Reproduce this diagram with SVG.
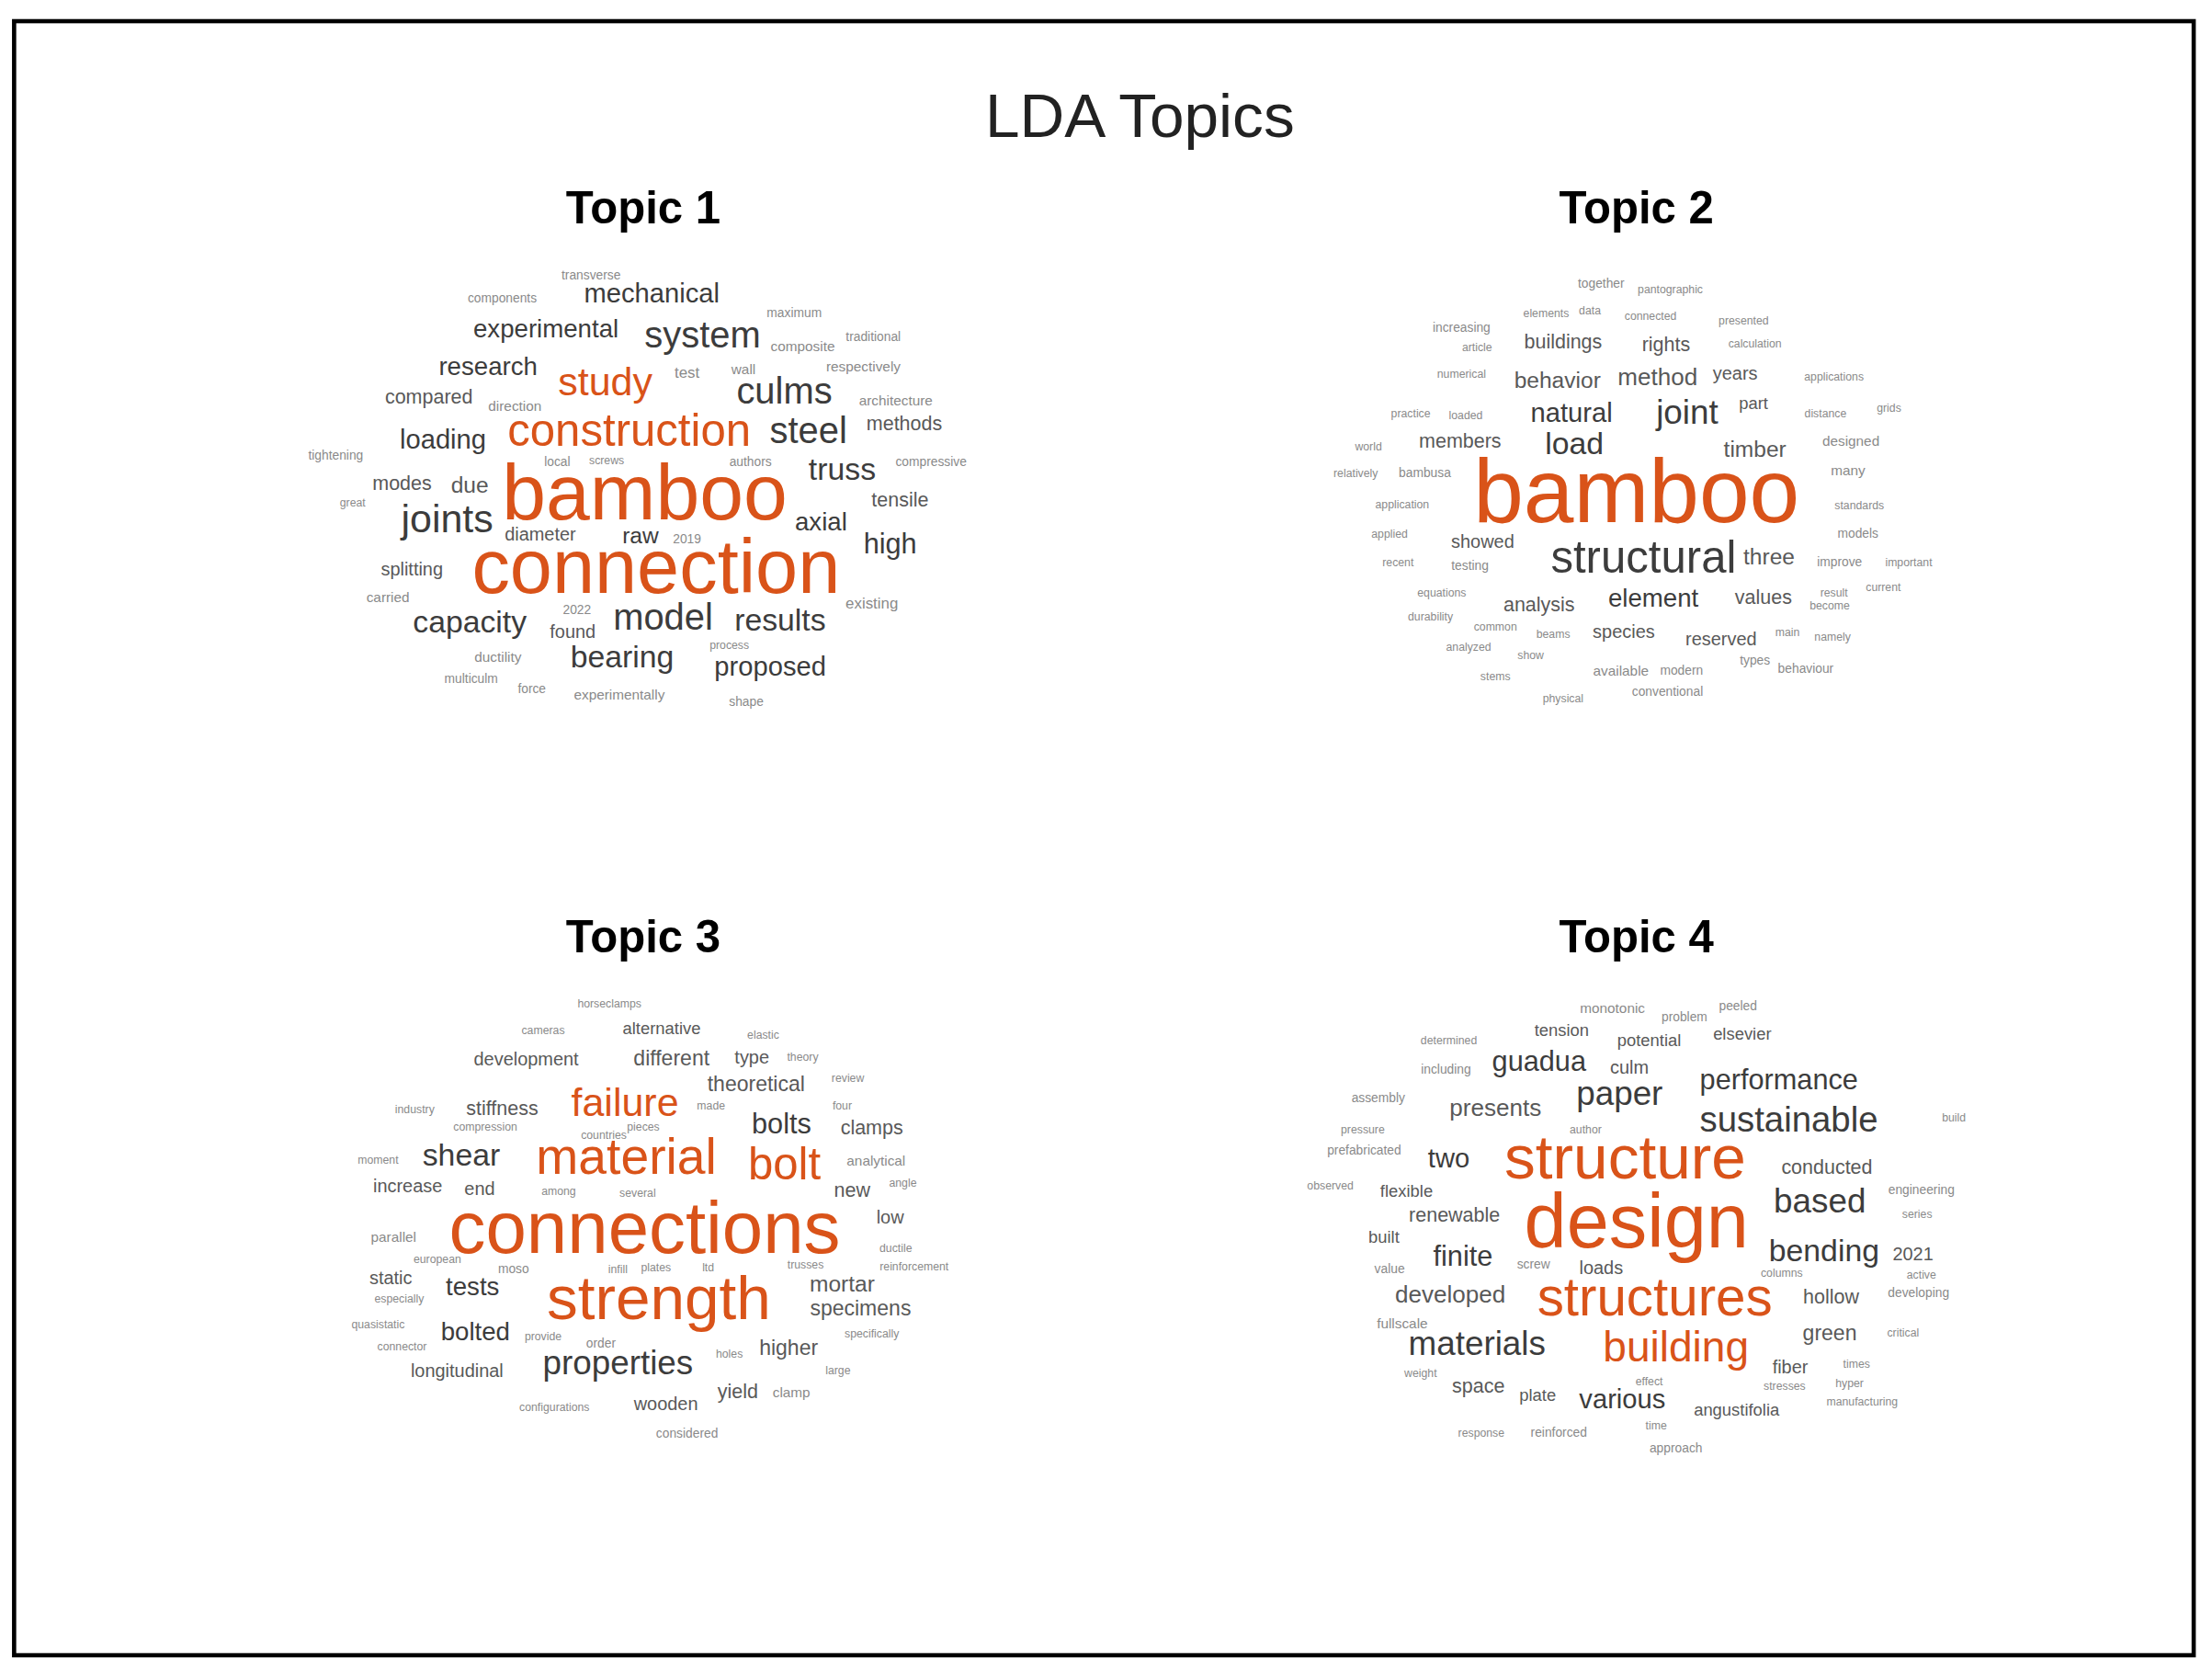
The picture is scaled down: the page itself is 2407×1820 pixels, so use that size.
<svg xmlns="http://www.w3.org/2000/svg" width="2407" height="1820" viewBox="0 0 2407 1820">
<style>
text{font-family:"Liberation Sans",Arial,sans-serif;text-anchor:middle}
.o{fill:#D95319}.d{fill:#3c3c3c}.m{fill:#595959}.s{fill:#8a8a8a}
.tt{font-weight:bold;fill:#000;font-size:32px}
</style>
<rect width="2407" height="1820" fill="#fff"/>
<g transform="scale(1.5351)">
<rect x="10" y="15" width="1545" height="1158" fill="none" stroke="#000" stroke-width="3"/>
<text x="808" y="97" font-size="44" fill="#222">LDA Topics</text>
<g id="topic1">
<text class="tt" x="456" y="158">Topic 1</text>
<text class="o" x="457" y="368" font-size="56">bamboo</text>
<text class="o" x="465" y="420" font-size="54">connection</text>
<text class="o" x="446" y="316" font-size="32">construction</text>
<text class="o" x="429" y="280" font-size="28">study</text>
<text class="d" x="498" y="246" font-size="26">system</text>
<text class="d" x="462" y="214" font-size="19">mechanical</text>
<text class="d" x="387" y="239" font-size="18">experimental</text>
<text class="d" x="346" y="266" font-size="18">research</text>
<text class="d" x="556" y="286" font-size="26">culms</text>
<text class="d" x="573" y="314" font-size="26">steel</text>
<text class="d" x="597" y="340" font-size="22">truss</text>
<text class="d" x="314" y="318" font-size="19">loading</text>
<text class="d" x="317" y="377" font-size="28">joints</text>
<text class="m" x="285" y="347" font-size="14">modes</text>
<text class="m" x="333" y="349" font-size="16">due</text>
<text class="m" x="304" y="286" font-size="14">compared</text>
<text class="s" x="365" y="291" font-size="10">direction</text>
<text class="s" x="487" y="268" font-size="11">test</text>
<text class="s" x="527" y="265" font-size="10">wall</text>
<text class="s" x="612" y="263" font-size="10">respectively</text>
<text class="s" x="635" y="287" font-size="10">architecture</text>
<text class="m" x="641" y="305" font-size="14">methods</text>
<text class="s" x="569" y="249" font-size="10">composite</text>
<text class="s" x="563" y="225" font-size="9">maximum</text>
<text class="s" x="619" y="242" font-size="9">traditional</text>
<text class="s" x="356" y="214" font-size="9">components</text>
<text class="s" x="419" y="198" font-size="9">transverse</text>
<text class="m" x="638" y="359" font-size="14">tensile</text>
<text class="d" x="582" y="376" font-size="18">axial</text>
<text class="d" x="631" y="392" font-size="20">high</text>
<text class="m" x="383" y="383" font-size="13">diameter</text>
<text class="d" x="454" y="385" font-size="16">raw</text>
<text class="s" x="487" y="385" font-size="9">2019</text>
<text class="d" x="333" y="448" font-size="22">capacity</text>
<text class="d" x="470" y="446" font-size="26">model</text>
<text class="d" x="553" y="447" font-size="22">results</text>
<text class="m" x="406" y="452" font-size="13">found</text>
<text class="s" x="409" y="435" font-size="9">2022</text>
<text class="d" x="441" y="473" font-size="22">bearing</text>
<text class="d" x="546" y="479" font-size="19">proposed</text>
<text class="m" x="292" y="408" font-size="13">splitting</text>
<text class="s" x="275" y="427" font-size="10">carried</text>
<text class="s" x="618" y="431" font-size="11">existing</text>
<text class="s" x="353" y="469" font-size="10">ductility</text>
<text class="s" x="334" y="484" font-size="9">multiculm</text>
<text class="s" x="377" y="491" font-size="9">force</text>
<text class="s" x="439" y="496" font-size="10">experimentally</text>
<text class="s" x="529" y="500" font-size="9">shape</text>
<text class="s" x="517" y="460" font-size="8">process</text>
<text class="s" x="532" y="330" font-size="9">authors</text>
<text class="s" x="395" y="330" font-size="9">local</text>
<text class="s" x="430" y="329" font-size="8">screws</text>
<text class="s" x="238" y="326" font-size="9">tightening</text>
<text class="s" x="250" y="359" font-size="8">great</text>
<text class="s" x="660" y="330" font-size="9">compressive</text>
</g>
<g id="topic2">
<text class="tt" x="1160" y="158">Topic 2</text>
<text class="o" x="1160" y="370" font-size="64">bamboo</text>
<text class="d" x="1165" y="406" font-size="32">structural</text>
<text class="d" x="1172" y="430" font-size="18">element</text>
<text class="m" x="1091" y="433" font-size="14">analysis</text>
<text class="m" x="1250" y="428" font-size="14">values</text>
<text class="m" x="1254" y="400" font-size="16">three</text>
<text class="d" x="1196" y="300" font-size="24">joint</text>
<text class="d" x="1114" y="299" font-size="19">natural</text>
<text class="d" x="1116" y="322" font-size="22">load</text>
<text class="m" x="1244" y="324" font-size="16">timber</text>
<text class="m" x="1104" y="275" font-size="16">behavior</text>
<text class="m" x="1175" y="273" font-size="17">method</text>
<text class="m" x="1230" y="269" font-size="13">years</text>
<text class="m" x="1243" y="290" font-size="12">part</text>
<text class="m" x="1035" y="317" font-size="14">members</text>
<text class="m" x="1108" y="247" font-size="14">buildings</text>
<text class="m" x="1181" y="249" font-size="14">rights</text>
<text class="m" x="1051" y="388" font-size="13">showed</text>
<text class="s" x="1042" y="404" font-size="9">testing</text>
<text class="m" x="1151" y="452" font-size="13">species</text>
<text class="m" x="1220" y="457" font-size="13">reserved</text>
<text class="s" x="1149" y="479" font-size="10">available</text>
<text class="s" x="1192" y="478" font-size="9">modern</text>
<text class="s" x="1182" y="493" font-size="9">conventional</text>
<text class="s" x="1244" y="471" font-size="9">types</text>
<text class="s" x="1280" y="477" font-size="9">behaviour</text>
<text class="s" x="1312" y="316" font-size="10">designed</text>
<text class="s" x="1310" y="337" font-size="10">many</text>
<text class="s" x="1318" y="361" font-size="8">standards</text>
<text class="s" x="1317" y="381" font-size="9">models</text>
<text class="s" x="1304" y="401" font-size="9">improve</text>
<text class="s" x="1353" y="401" font-size="8">important</text>
<text class="s" x="1294" y="296" font-size="8">distance</text>
<text class="s" x="1300" y="270" font-size="8">applications</text>
<text class="s" x="1244" y="246" font-size="8">calculation</text>
<text class="s" x="1236" y="230" font-size="8">presented</text>
<text class="s" x="1170" y="227" font-size="8">connected</text>
<text class="s" x="1096" y="225" font-size="8">elements</text>
<text class="s" x="1127" y="223" font-size="8">data</text>
<text class="s" x="1135" y="204" font-size="9">together</text>
<text class="s" x="1184" y="208" font-size="8">pantographic</text>
<text class="s" x="1036" y="235" font-size="9">increasing</text>
<text class="s" x="1047" y="249" font-size="8">article</text>
<text class="s" x="1036" y="268" font-size="8">numerical</text>
<text class="s" x="1000" y="296" font-size="8">practice</text>
<text class="s" x="1039" y="297" font-size="8">loaded</text>
<text class="s" x="970" y="319" font-size="8">world</text>
<text class="s" x="961" y="338" font-size="8">relatively</text>
<text class="s" x="1010" y="338" font-size="9">bambusa</text>
<text class="s" x="994" y="360" font-size="8">application</text>
<text class="s" x="985" y="381" font-size="8">applied</text>
<text class="s" x="991" y="401" font-size="8">recent</text>
<text class="s" x="1022" y="423" font-size="8">equations</text>
<text class="s" x="1014" y="440" font-size="8">durability</text>
<text class="s" x="1060" y="447" font-size="8">common</text>
<text class="s" x="1041" y="461" font-size="8">analyzed</text>
<text class="s" x="1101" y="452" font-size="8">beams</text>
<text class="s" x="1085" y="467" font-size="8">show</text>
<text class="s" x="1060" y="482" font-size="8">stems</text>
<text class="s" x="1108" y="498" font-size="8">physical</text>
<text class="s" x="1300" y="423" font-size="8">result</text>
<text class="s" x="1297" y="432" font-size="8">become</text>
<text class="s" x="1335" y="419" font-size="8">current</text>
<text class="s" x="1267" y="451" font-size="8">main</text>
<text class="s" x="1299" y="454" font-size="8">namely</text>
<text class="s" x="1339" y="292" font-size="8">grids</text>
</g>
<g id="topic3">
<text class="tt" x="456" y="675">Topic 3</text>
<text class="o" x="457" y="888" font-size="52">connections</text>
<text class="o" x="467" y="935" font-size="44">strength</text>
<text class="o" x="444" y="832" font-size="36">material</text>
<text class="o" x="556" y="836" font-size="32">bolt</text>
<text class="o" x="443" y="791" font-size="28">failure</text>
<text class="d" x="327" y="826" font-size="22">shear</text>
<text class="d" x="554" y="803" font-size="20">bolts</text>
<text class="m" x="618" y="804" font-size="14">clamps</text>
<text class="m" x="536" y="773" font-size="15">theoretical</text>
<text class="m" x="476" y="755" font-size="15">different</text>
<text class="m" x="533" y="754" font-size="13">type</text>
<text class="m" x="469" y="733" font-size="12">alternative</text>
<text class="m" x="373" y="755" font-size="13">development</text>
<text class="m" x="356" y="790" font-size="14">stiffness</text>
<text class="m" x="289" y="845" font-size="13">increase</text>
<text class="m" x="340" y="847" font-size="13">end</text>
<text class="m" x="604" y="848" font-size="14">new</text>
<text class="s" x="621" y="826" font-size="10">analytical</text>
<text class="m" x="631" y="867" font-size="13">low</text>
<text class="d" x="335" y="918" font-size="18">tests</text>
<text class="m" x="277" y="910" font-size="13">static</text>
<text class="s" x="279" y="880" font-size="10">parallel</text>
<text class="m" x="597" y="915" font-size="16">mortar</text>
<text class="m" x="610" y="932" font-size="15">specimens</text>
<text class="d" x="337" y="950" font-size="18">bolted</text>
<text class="d" x="438" y="974" font-size="24">properties</text>
<text class="m" x="324" y="976" font-size="13">longitudinal</text>
<text class="m" x="559" y="960" font-size="15">higher</text>
<text class="m" x="523" y="991" font-size="14">yield</text>
<text class="s" x="561" y="990" font-size="10">clamp</text>
<text class="m" x="472" y="999" font-size="13">wooden</text>
<text class="s" x="393" y="1000" font-size="8">configurations</text>
<text class="s" x="487" y="1019" font-size="9">considered</text>
<text class="s" x="426" y="955" font-size="9">order</text>
<text class="s" x="385" y="950" font-size="8">provide</text>
<text class="s" x="517" y="962" font-size="8">holes</text>
<text class="s" x="364" y="902" font-size="9">moso</text>
<text class="s" x="438" y="902" font-size="8">infill</text>
<text class="s" x="465" y="901" font-size="8">plates</text>
<text class="s" x="502" y="901" font-size="8">ltd</text>
<text class="s" x="571" y="899" font-size="8">trusses</text>
<text class="s" x="635" y="887" font-size="8">ductile</text>
<text class="s" x="648" y="900" font-size="8">reinforcement</text>
<text class="s" x="618" y="948" font-size="8">specifically</text>
<text class="s" x="594" y="974" font-size="8">large</text>
<text class="s" x="310" y="895" font-size="8">european</text>
<text class="s" x="283" y="923" font-size="8">especially</text>
<text class="s" x="268" y="941" font-size="8">quasistatic</text>
<text class="s" x="285" y="957" font-size="8">connector</text>
<text class="s" x="428" y="807" font-size="8">countries</text>
<text class="s" x="456" y="801" font-size="8">pieces</text>
<text class="s" x="344" y="801" font-size="8">compression</text>
<text class="s" x="294" y="789" font-size="8">industry</text>
<text class="s" x="268" y="825" font-size="8">moment</text>
<text class="s" x="396" y="847" font-size="8">among</text>
<text class="s" x="452" y="848" font-size="8">several</text>
<text class="s" x="504" y="786" font-size="8">made</text>
<text class="s" x="601" y="767" font-size="8">review</text>
<text class="s" x="597" y="786" font-size="8">four</text>
<text class="s" x="640" y="841" font-size="8">angle</text>
<text class="s" x="569" y="752" font-size="8">theory</text>
<text class="s" x="541" y="736" font-size="8">elastic</text>
<text class="s" x="385" y="733" font-size="8">cameras</text>
<text class="s" x="432" y="714" font-size="8">horseclamps</text>
</g>
<g id="topic4">
<text class="tt" x="1160" y="675">Topic 4</text>
<text class="o" x="1160" y="884" font-size="54">design</text>
<text class="o" x="1152" y="835" font-size="44">structure</text>
<text class="o" x="1173" y="932" font-size="38">structures</text>
<text class="o" x="1188" y="965" font-size="30">building</text>
<text class="d" x="1268" y="802" font-size="25">sustainable</text>
<text class="d" x="1261" y="772" font-size="20">performance</text>
<text class="d" x="1148" y="783" font-size="24">paper</text>
<text class="d" x="1091" y="759" font-size="20">guadua</text>
<text class="m" x="1060" y="791" font-size="17">presents</text>
<text class="d" x="1027" y="827" font-size="19">two</text>
<text class="d" x="1290" y="859" font-size="24">based</text>
<text class="m" x="1295" y="832" font-size="14">conducted</text>
<text class="d" x="1293" y="894" font-size="22">bending</text>
<text class="m" x="1356" y="893" font-size="13">2021</text>
<text class="d" x="1037" y="897" font-size="20">finite</text>
<text class="m" x="1028" y="923" font-size="17">developed</text>
<text class="d" x="1047" y="960" font-size="24">materials</text>
<text class="m" x="1298" y="924" font-size="14">hollow</text>
<text class="m" x="1297" y="950" font-size="15">green</text>
<text class="m" x="1269" y="973" font-size="13">fiber</text>
<text class="d" x="1150" y="998" font-size="19">various</text>
<text class="m" x="1048" y="987" font-size="14">space</text>
<text class="m" x="1090" y="993" font-size="12">plate</text>
<text class="m" x="1231" y="1003" font-size="12">angustifolia</text>
<text class="m" x="1031" y="866" font-size="14">renewable</text>
<text class="m" x="997" y="848" font-size="12">flexible</text>
<text class="m" x="981" y="881" font-size="12">built</text>
<text class="s" x="985" y="902" font-size="9">value</text>
<text class="m" x="1135" y="903" font-size="13">loads</text>
<text class="s" x="1087" y="899" font-size="9">screw</text>
<text class="m" x="1155" y="761" font-size="13">culm</text>
<text class="m" x="1169" y="741" font-size="12">potential</text>
<text class="m" x="1235" y="737" font-size="12">elsevier</text>
<text class="m" x="1107" y="734" font-size="12">tension</text>
<text class="s" x="1143" y="718" font-size="10">monotonic</text>
<text class="s" x="1194" y="724" font-size="9">problem</text>
<text class="s" x="1232" y="716" font-size="9">peeled</text>
<text class="s" x="1027" y="740" font-size="8">determined</text>
<text class="s" x="1025" y="761" font-size="9">including</text>
<text class="s" x="977" y="781" font-size="9">assembly</text>
<text class="s" x="966" y="803" font-size="8">pressure</text>
<text class="s" x="967" y="818" font-size="9">prefabricated</text>
<text class="s" x="943" y="843" font-size="8">observed</text>
<text class="s" x="1124" y="803" font-size="8">author</text>
<text class="s" x="1362" y="846" font-size="9">engineering</text>
<text class="s" x="1359" y="863" font-size="8">series</text>
<text class="s" x="1360" y="919" font-size="9">developing</text>
<text class="s" x="1349" y="947" font-size="8">critical</text>
<text class="s" x="1316" y="969" font-size="8">times</text>
<text class="s" x="1311" y="983" font-size="8">hyper</text>
<text class="s" x="1320" y="996" font-size="8">manufacturing</text>
<text class="s" x="1265" y="985" font-size="8">stresses</text>
<text class="s" x="1263" y="905" font-size="8">columns</text>
<text class="s" x="1362" y="906" font-size="8">active</text>
<text class="s" x="1385" y="795" font-size="8">build</text>
<text class="s" x="994" y="941" font-size="10">fullscale</text>
<text class="s" x="1007" y="976" font-size="8">weight</text>
<text class="s" x="1105" y="1018" font-size="9">reinforced</text>
<text class="s" x="1050" y="1018" font-size="8">response</text>
<text class="s" x="1174" y="1013" font-size="8">time</text>
<text class="s" x="1188" y="1029" font-size="9">approach</text>
<text class="s" x="1169" y="982" font-size="8">effect</text>
</g>
</g>
</svg>
